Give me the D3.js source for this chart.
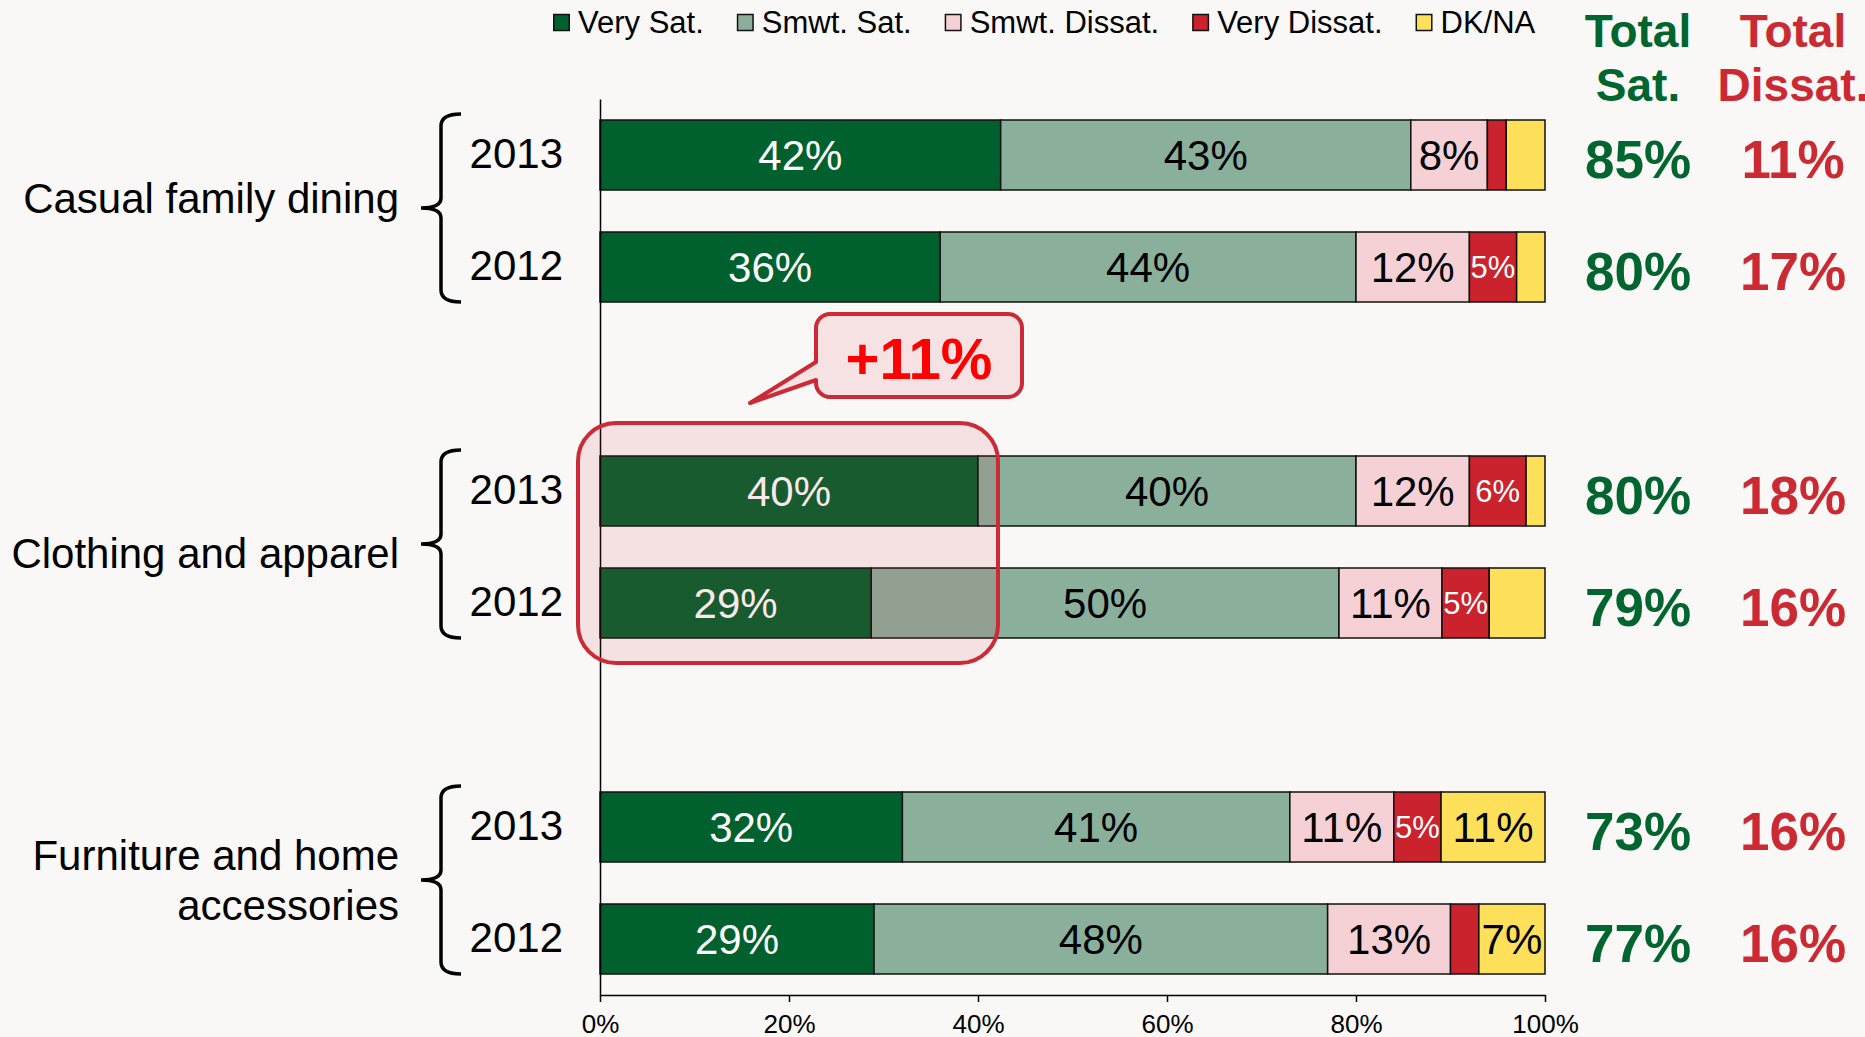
<!DOCTYPE html>
<html>
<head>
<meta charset="utf-8">
<script src="https://cdn.jsdelivr.net/npm/d3@7"></script>
<style>
  html, body { margin: 0; padding: 0; background: #F9F8F6; }
  svg { display: block; font-family: "Liberation Sans", Arial, sans-serif; }
</style>
</head>
<body>
<div id="chart"></div>
<script>
// categories
const groups = ["Casual family dining", "Clothing and apparel", "Furniture and home accessories"];
const years = ["2013", "2012"];
const seriesNames = ["Very Sat.", "Smwt. Sat.", "Smwt. Dissat.", "Very Dissat.", "DK/NA"];

// one value per bar, bar order: group by group, 2013 then 2012
const verySat    = [42.4, 36.0, 40.0, 28.7, 32.0, 29.0];
const smwtSat    = [43.4, 44.0, 40.0, 49.5, 41.0, 48.0];
const smwtDissat = [8.1, 12.0, 12.0, 10.9, 11.0, 13.0];
const veryDissat = [2.0, 5.0, 6.0, 5.0, 5.0, 3.0];
const dkna       = [4.1, 3.0, 2.0, 5.9, 11.0, 7.0];

const totalSat    = [85, 80, 80, 79, 73, 77];
const totalDissat = [11, 17, 18, 16, 16, 16];

const xTicks = [0, 20, 40, 60, 80, 100];
const calloutText = "+11%";

const colors = ["#00612E", "#8AAF9A", "#F5D1D5", "#CB232D", "#FFE05A"];
const labelColors = ["#fff", "#000", "#000", "#fff", "#000"];
const labelSizes = [42, 42, 42, 31, 42];
const minLabel = [0, 0, 0, 4.5, 6.5];   // smaller segments stay unlabelled
const green = "#00652F", red = "#CC2A33";

const W = 1865, H = 1037;

// rows for the stack
const allSeries = [verySat, smwtSat, smwtDissat, veryDissat, dkna];
const rows = [];
groups.forEach((g, gi) => {
  years.forEach((yr, yi) => {
    const i = gi * 2 + yi;
    const r = { key: g + "|" + yr, group: g, year: yr, i: i };
    seriesNames.forEach((s, si) => r[s] = allSeries[si][i]);
    rows.push(r);
  });
});

// band domain has an empty row between groups
const yDomain = [];
groups.forEach((g, gi) => {
  years.forEach(yr => yDomain.push(g + "|" + yr));
  if (gi < groups.length - 1) yDomain.push("gap" + gi);
});

const x = d3.scaleLinear().domain([0, 100]).range([600, 1545]);
const y = d3.scaleBand().domain(yDomain).range([99, 995])
  .paddingInner(0.375).paddingOuter(0.1875);
const bw = y.bandwidth();

const svg = d3.select("#chart").append("svg")
  .attr("width", W).attr("height", H);
svg.append("rect").attr("width", W).attr("height", H).attr("fill", "#F9F8F6");

// legend
const legend = svg.append("g").attr("transform", "translate(553,0)");
let lx = 0;
seriesNames.forEach((s, si) => {
  legend.append("rect")
    .attr("x", lx + 0.75).attr("y", 14.5)
    .attr("width", 15.5).attr("height", 16)
    .attr("fill", colors[si]).attr("stroke", "#111").attr("stroke-width", 1.5);
  const t = legend.append("text")
    .attr("x", lx + 25).attr("y", 33)
    .attr("font-size", 31).attr("fill", "#000")
    .text(s);
  lx += 25 + t.node().getComputedTextLength() + 33;
});

// headers for the totals
const satX = 1638, dissatX = 1793;
[["Total", "Sat.", satX, green], ["Total", "Dissat.", dissatX, red]].forEach(h => {
  const t = svg.append("text").attr("text-anchor", "middle")
    .attr("font-size", 46).attr("font-weight", "bold").attr("fill", h[3]);
  t.append("tspan").attr("x", h[2]).attr("y", 47).text(h[0]);
  t.append("tspan").attr("x", h[2]).attr("y", 101).text(h[1]);
});

// stacked bars
const stack = d3.stack().keys(seriesNames);
const stacked = stack(rows);

const layers = svg.append("g").selectAll("g")
  .data(stacked).join("g")
  .attr("fill", (d, i) => colors[i]);

layers.selectAll("rect")
  .data(d => d)
  .join("rect")
  .attr("x", d => x(d[0]))
  .attr("y", d => y(d.data.key))
  .attr("width", d => x(d[1]) - x(d[0]))
  .attr("height", bw)
  .attr("stroke", "#111")
  .attr("stroke-width", 1.5);

// segment labels
stacked.forEach((layer, si) => {
  svg.append("g").selectAll("text")
    .data(layer.filter(d => d[1] - d[0] >= minLabel[si]))
    .join("text")
    .attr("x", d => x((d[0] + d[1]) / 2))
    .attr("y", d => y(d.data.key) + bw / 2 + labelSizes[si] * 0.36)
    .attr("text-anchor", "middle")
    .attr("font-size", labelSizes[si])
    .attr("fill", labelColors[si])
    .text(d => Math.round(d[1] - d[0]) + "%");
});

// totals
const totals = svg.append("g");
totals.selectAll(".ts").data(rows).join("text").attr("class", "ts")
  .attr("x", satX).attr("y", d => y(d.key) + bw / 2 + 23)
  .attr("text-anchor", "middle").attr("font-size", 53).attr("font-weight", "bold")
  .attr("fill", green)
  .text(d => totalSat[d.i] + "%");
totals.selectAll(".td").data(rows).join("text").attr("class", "td")
  .attr("x", dissatX).attr("y", d => y(d.key) + bw / 2 + 23)
  .attr("text-anchor", "middle").attr("font-size", 53).attr("font-weight", "bold")
  .attr("fill", red)
  .text(d => totalDissat[d.i] + "%");

// axes
const xAxis = svg.append("g")
  .attr("transform", "translate(0,995)")
  .call(d3.axisBottom(x).tickValues(xTicks).tickFormat(d => d + "%")
    .tickSize(7).tickSizeOuter(0).tickPadding(13));
xAxis.selectAll("text").attr("font-size", 26).attr("fill", "#000")
  .attr("font-family", "Liberation Sans, Arial, sans-serif");
xAxis.selectAll("line, path").attr("stroke", "#000").attr("stroke-width", 1.5);

const yAxis = svg.append("g")
  .attr("transform", "translate(600,0)")
  .call(d3.axisLeft(y).tickSize(0).tickSizeOuter(0).tickPadding(37)
    .tickFormat(k => k.startsWith("gap") ? "" : k.split("|")[1]));
yAxis.selectAll("text").attr("font-size", 42).attr("fill", "#000")
  .attr("font-family", "Liberation Sans, Arial, sans-serif");
yAxis.select(".domain").attr("stroke", "#000").attr("stroke-width", 1.5);

// group braces and names
const labelNudge = [-10, 9, 0];
groups.forEach((g, gi) => {
  const cy = (y(g + "|2013") + y(g + "|2012")) / 2 + bw / 2 - 3;
  const top = cy - 94, bot = cy + 94, bx = 441;
  svg.append("path")
    .attr("d", `M${bx + 20},${top} Q${bx},${top} ${bx},${top + 12} L${bx},${cy - 10}` +
               ` Q${bx},${cy} ${bx - 20},${cy} Q${bx},${cy} ${bx},${cy + 10}` +
               ` L${bx},${bot - 12} Q${bx},${bot} ${bx + 20},${bot}`)
    .attr("fill", "none").attr("stroke", "#000").attr("stroke-width", 3.5);

  const lines = g === "Furniture and home accessories"
    ? ["Furniture and home", "accessories"] : [g];
  const t = svg.append("text").attr("text-anchor", "end")
    .attr("font-size", 42).attr("fill", "#000");
  const y0 = cy + 15 + labelNudge[gi] - (lines.length - 1) * 25;
  lines.forEach((ln, li) => {
    t.append("tspan").attr("x", 399).attr("y", y0 + li * 50).text(ln);
  });
});

// highlight around the Clothing and apparel "Very Sat." change
const g2 = groups[1];
const hlTop = y(g2 + "|2013") - 33, hlBot = y(g2 + "|2012") + bw + 25;
svg.append("rect")
  .attr("x", x(0) - 22).attr("y", hlTop)
  .attr("width", x(verySat[2]) + 20 - (x(0) - 22)).attr("height", hlBot - hlTop)
  .attr("rx", 38).attr("ry", 38)
  .attr("fill", "#D4303C").attr("fill-opacity", 0.11)
  .attr("stroke", "#CC2A36").attr("stroke-width", 4);

// callout
const bL = 816, bR = 1022, bT = hlTop - 109, bB = hlTop - 26, r = 14;
const tipX = 750, tipY = hlTop - 20;
svg.append("path")
  .attr("d", `M${bL + r},${bT} H${bR - r} A${r},${r} 0 0 1 ${bR},${bT + r} V${bB - r}` +
             ` A${r},${r} 0 0 1 ${bR - r},${bB} H${bL + r} A${r},${r} 0 0 1 ${bL},${bB - r}` +
             ` V${bB - 17} L${tipX},${tipY} L${bL},${bB - 35} V${bT + r}` +
             ` A${r},${r} 0 0 1 ${bL + r},${bT} Z`)
  .attr("fill", "#F6E2E3").attr("stroke", "#CC2A36").attr("stroke-width", 4)
  .attr("stroke-linejoin", "round");
svg.append("text")
  .attr("x", (bL + bR) / 2).attr("y", bB - 18)
  .attr("text-anchor", "middle").attr("font-size", 58).attr("font-weight", "bold")
  .attr("fill", "#FF0000")
  .text(calloutText);
</script>
</body>
</html>
